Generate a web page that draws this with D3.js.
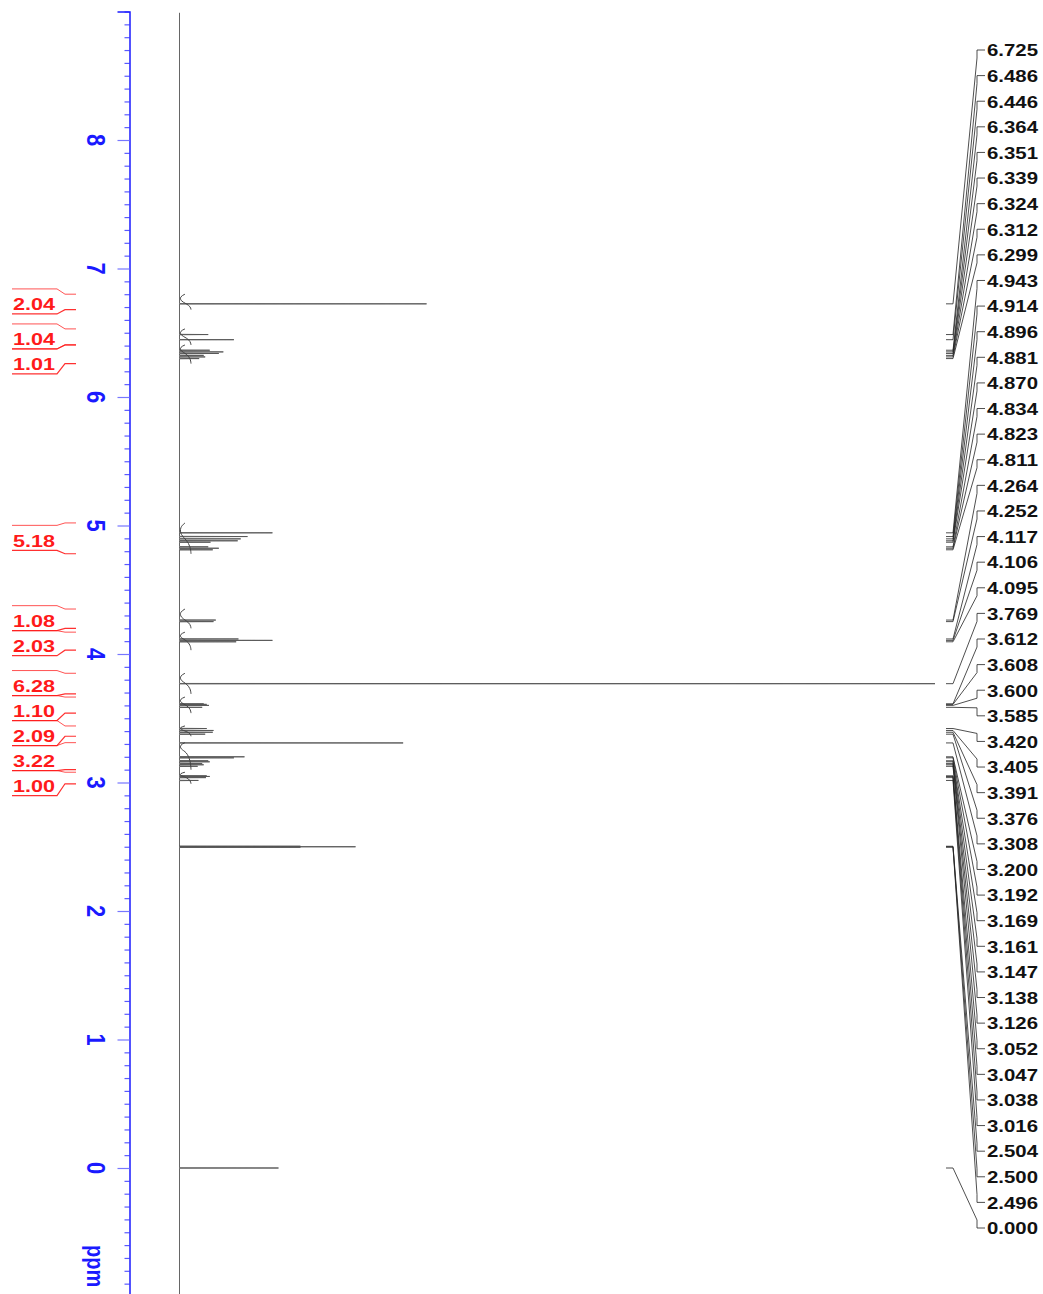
<!DOCTYPE html>
<html><head><meta charset="utf-8">
<script src="https://cdn.jsdelivr.net/npm/d3@7"></script>
<style>body{margin:0;background:#fff}svg{display:block}</style>
</head><body>
<svg id="c" width="1043" height="1294"></svg>
<script>
// ---- data ----
const peakPpm = [6.725,6.486,6.446,6.364,6.351,6.339,6.324,6.312,6.299,
  4.943,4.914,4.896,4.881,4.870,4.834,4.823,4.811,4.264,4.252,4.117,4.106,4.095,
  3.769,3.612,3.608,3.600,3.585,3.420,3.405,3.391,3.376,3.308,
  3.200,3.192,3.169,3.161,3.147,3.138,3.126,3.052,3.047,3.038,3.016,
  2.504,2.500,2.496,0.000];
const peakHeight = [32.7,3.8,7.2,4.0,5.8,5.2,3.2,3.4,2.6,
  12.3,9.0,8.1,7.7,4.1,3.8,5.2,4.4,4.8,4.5,7.8,12.3,7.5,
  100,3.2,3.6,3.9,3.0,3.6,4.5,4.4,3.4,29.6,
  8.6,7.2,3.8,4.0,3.0,3.2,2.4,3.6,4.0,3.5,2.5,
  16.0,23.3,16.0,13.1];
const peakLabels = peakPpm.map(v => v.toFixed(3));
const integralValues = ["2.04","1.04","1.01","5.18","1.08","2.03","6.28","1.10","2.09","3.22","1.00"];
const integralFrom = [6.80,6.53,6.405,5.02,4.35,4.17,3.85,3.665,3.44,3.31,3.08];
const integralTo   = [6.68,6.405,6.26,4.78,4.20,4.03,3.69,3.54,3.36,3.10,2.99];
const axisMajor = [0,1,2,3,4,5,6,7,8];
const axisUnit = "ppm";

// ---- scales ----
const svg = d3.select("#c");
const y = d3.scaleLinear().domain([9, -1]).range([11.5, 1296.5]);
const x = d3.scaleLinear().domain([0, 100]).range([179.5, 935]);
const blue = "#1a1aff";
const font = "Liberation Sans, Arial, sans-serif";

// ---- axis ----
const minorTicks = d3.range(-10, 91).map(i => i / 10).filter(v => !axisMajor.includes(Math.round(v * 10) / 10));
const gMinor = svg.append("g").attr("transform", "translate(129.5,0)")
  .call(d3.axisLeft(y).tickValues(minorTicks).tickSize(5).tickSizeOuter(0).tickFormat(""));
gMinor.select(".domain").remove();
gMinor.selectAll(".tick line").attr("stroke", "#5a5aff").attr("stroke-width", 1.2);
const gAx = svg.append("g").attr("transform", "translate(129.5,0)")
  .call(d3.axisLeft(y).tickValues(axisMajor).tickSize(12).tickSizeOuter(12).tickFormat(""));
gAx.selectAll(".tick line").attr("stroke", "#7777ff").attr("stroke-width", 1.2);
gAx.select(".domain").attr("stroke", blue).attr("stroke-width", 1.5);

svg.append("g").selectAll("text").data(axisMajor).join("text")
  .attr("transform", d => `translate(87,${y(d)}) rotate(90) scale(1,1.18)`)
  .attr("text-anchor", "middle")
  .attr("font-family", font)
  .attr("font-weight", "bold").attr("font-size", 22).attr("fill", blue)
  .text(d => d);
svg.append("text")
  .attr("transform", `translate(87,1245) rotate(90) scale(1,1.18)`)
  .attr("font-family", font)
  .attr("font-weight", "bold").attr("font-size", 20).attr("fill", blue)
  .text(axisUnit);

// ---- spectrum trace ----
const w = 0.0018;
const pts = [[8.99, 0]];
peakPpm.forEach((p, i) => { pts.push([p + w, 0], [p, peakHeight[i]], [p - w, 0]); });
pts.push([-1, 0]);
svg.append("path")
  .attr("d", d3.line().x(d => x(d[1])).y(d => y(d[0]))(pts))
  .attr("fill", "none").attr("stroke", "#555").attr("stroke-width", 0.9);

// ---- integral curves ----
const rise = 11;
integralFrom.forEach((a, i) => {
  const b = integralTo[i];
  const inside = peakPpm.map((p, k) => [p, peakHeight[k]]).filter(d => d[0] <= a && d[0] >= b);
  const tot = d3.sum(inside, d => d[1]) || 1;
  const m = inside.length ? d3.sum(inside, d => d[0] * d[1]) / tot : (a + b) / 2;
  const cp = [[a, 5], [a - (a - m) * 0.25, 0], [a - (a - m) * 0.7, 0.5], [m, rise * 0.6], [m - (m - b) * 0.5, rise * 0.95], [b, rise]];
  svg.append("path")
    .attr("d", d3.line().curve(d3.curveBasis).x(d => 180 + d[1]).y(d => y(d[0]))(cp))
    .attr("fill", "none").attr("stroke", "#444").attr("stroke-width", 1);
});

// ---- integral labels (left, red) ----
const red = "#ff1a1a";
const centers = integralFrom.map((a, i) => (y(a) + y(integralTo[i])) / 2 + 2);
for (let i = 1; i < centers.length; i++) if (centers[i] < centers[i - 1] + 25) centers[i] = centers[i - 1] + 25;
const gI = svg.append("g");
integralValues.forEach((v, i) => {
  const c = centers[i], ys = y(integralFrom[i]), ye = y(integralTo[i]);
  gI.append("path").attr("d", d3.line()([[12, c - 15], [57, c - 15], [65, ys], [76, ys]]))
    .attr("fill", "none").attr("stroke", red).attr("stroke-width", 1).attr("opacity", 0.75);
  gI.append("path").attr("d", d3.line()([[12, c + 10], [57, c + 10], [65, ye], [76, ye]]))
    .attr("fill", "none").attr("stroke", red).attr("stroke-width", 1.2).attr("opacity", 0.9);
  gI.append("text").attr("x", 13).attr("y", c + 6.5)
    .attr("font-family", font).attr("font-weight", "bold")
    .attr("font-size", 17).attr("fill", red)
    .attr("textLength", 42).attr("lengthAdjust", "spacingAndGlyphs").text(v);
});

// ---- peak labels (right) ----
const lab = d3.scaleLinear().domain([0, peakPpm.length - 1]).range([50, 1228]);
const gP = svg.append("g");
peakPpm.forEach((p, i) => {
  const L = lab(i), P = y(p);
  const dir = Math.sign(P - L), el = L + dir * Math.min(8, Math.abs(P - L));
  gP.append("path").attr("d", d3.line()([[946, P], [953, P], [977, el], [977, L], [985, L]]))
    .attr("fill", "none").attr("stroke", "#222").attr("stroke-width", 0.8);
  gP.append("text").attr("x", 987).attr("y", L + 6.3)
    .attr("font-family", font).attr("font-weight", "bold")
    .attr("font-size", 17).attr("fill", "#111")
    .attr("textLength", 51).attr("lengthAdjust", "spacingAndGlyphs").text(peakLabels[i]);
});
</script>
</body></html>
